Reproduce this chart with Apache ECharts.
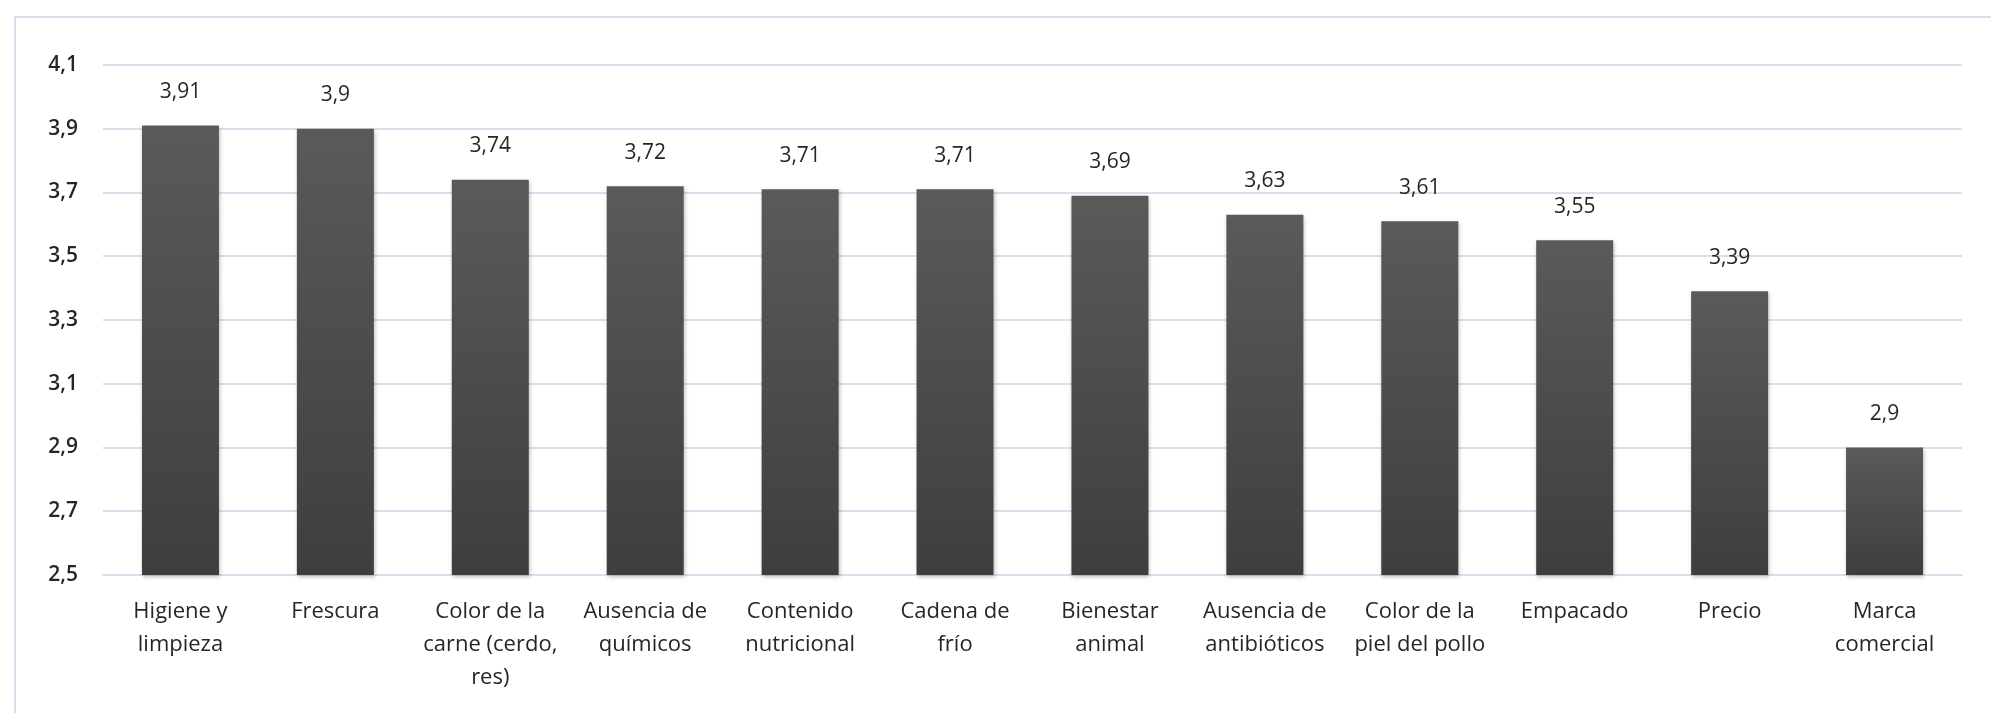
<!DOCTYPE html>
<html>
<head>
<meta charset="utf-8">
<script src="https://cdn.jsdelivr.net/npm/echarts@6/dist/echarts.min.js"></script>
<style>
html,body{margin:0;padding:0;background:#fff;}
#c{width:1991px;height:713px;}
</style>
</head>
<body>
<div id="c"></div>
<script>
const categories = [
  "Higiene y\nlimpieza", "Frescura", "Color de la\ncarne (cerdo,\nres)", "Ausencia de\nquímicos",
  "Contenido\nnutricional", "Cadena de\nfrío", "Bienestar\nanimal", "Ausencia de\nantibióticos",
  "Color de la\npiel del pollo", "Empacado", "Precio", "Marca\ncomercial"
];
const values = [3.91, 3.9, 3.74, 3.72, 3.71, 3.71, 3.69, 3.63, 3.61, 3.55, 3.39, 2.9];
const yMin = 2.5, yMax = 4.1, yStep = 0.2;

const FONT = '"Open Sans", "Noto Sans", sans-serif';
const comma = v => String(Math.round(v * 100) / 100).replace('.', ',');

const chart = echarts.init(document.getElementById('c'), null, {renderer: 'canvas'});
chart.setOption({
  backgroundColor: '#ffffff',
  animation: false,
  grid: {left: 103, right: 29, top: 65, bottom: 138, containLabel: false},
  graphic: [
    {type: 'line', shape: {x1: 15, y1: 17, x2: 1991, y2: 17}, style: {stroke: '#d3dfec', lineWidth: 2}},
    {type: 'line', shape: {x1: 15, y1: 17, x2: 15, y2: 713}, style: {stroke: '#d3dfec', lineWidth: 2}}
  ],
  xAxis: {
    type: 'category',
    data: categories,
    axisLine: {show: true, lineStyle: {color: '#d6e1ee', width: 2}},
    axisTick: {show: false},
    axisLabel: {
      interval: 0, margin: 20, color: '#262626', fontSize: 22, lineHeight: 33,
      fontFamily: FONT
    }
  },
  yAxis: {
    type: 'value',
    min: yMin, max: yMax, interval: yStep,
    axisLine: {show: false},
    axisTick: {show: false},
    splitLine: {lineStyle: {color: '#d6e1ee', width: 2}},
    axisLabel: {
      margin: 25, color: '#262626', fontSize: 21, fontWeight: 600, fontFamily: FONT,
      formatter: v => comma(v)
    }
  },
  series: [{
    type: 'bar',
    data: values,
    barWidth: 77,
    itemStyle: {
      color: new echarts.graphic.LinearGradient(0, 0, 0, 1, [
        {offset: 0, color: '#5a5a5a'},
        {offset: 1, color: '#3e3e3e'}
      ]),
      shadowColor: 'rgba(0,0,0,0.25)', shadowBlur: 4, shadowOffsetX: 1, shadowOffsetY: 2
    },
    label: {
      show: true, position: 'top', distance: 23,
      color: '#262626', fontSize: 21, fontFamily: FONT,
      formatter: p => comma(p.value)
    }
  }]
});
</script>
</body>
</html>
